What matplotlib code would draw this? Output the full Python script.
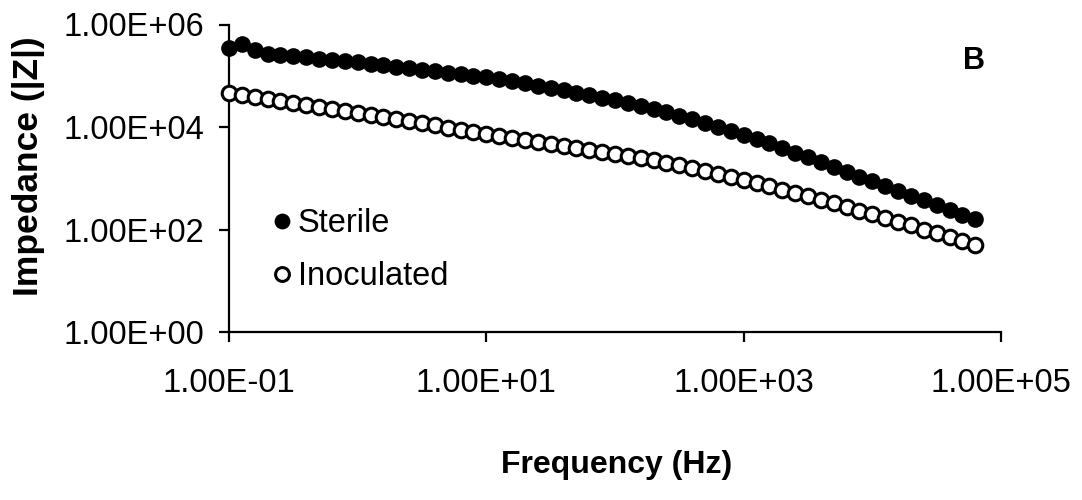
import matplotlib
matplotlib.use("Agg")
import matplotlib.pyplot as plt
import numpy as np
from matplotlib.ticker import FixedLocator, NullLocator, FuncFormatter

plt.rcParams['font.family'] = ['Liberation Sans', 'DejaVu Sans']

freq = [0.1, 0.126, 0.158, 0.2, 0.251, 0.316, 0.398, 0.501, 0.631, 0.794,
        1.0, 1.26, 1.58, 2.0, 2.51, 3.16, 3.98, 5.01, 6.31, 7.94,
        10, 12.6, 15.8, 20, 25.1, 31.6, 39.8, 50.1, 63.1, 79.4,
        100, 126, 158, 200, 251, 316, 398, 501, 631, 794,
        1000, 1260, 1580, 2000, 2510, 3160, 3980, 5010, 6310, 7940,
        10000, 12600, 15800, 20000, 25100, 31600, 39800, 50100, 63100]

sterile_log10_z = [5.54, 5.62, 5.50, 5.42, 5.40, 5.38, 5.36, 5.33, 5.31, 5.28,
                   5.26, 5.23, 5.21, 5.18, 5.15, 5.12, 5.09, 5.06, 5.03, 5.00,
                   4.97, 4.93, 4.89, 4.85, 4.80, 4.76, 4.72, 4.67, 4.62, 4.57,
                   4.52, 4.46, 4.41, 4.35, 4.29, 4.22, 4.15, 4.08, 4.00, 3.92,
                   3.84, 3.76, 3.68, 3.59, 3.50, 3.41, 3.31, 3.22, 3.12, 3.03,
                   2.94, 2.84, 2.75, 2.66, 2.57, 2.48, 2.38, 2.29, 2.20]

inoculated_log10_z = [4.66, 4.63, 4.59, 4.55, 4.51, 4.47, 4.43, 4.39, 4.35, 4.31,
                      4.27, 4.23, 4.19, 4.15, 4.11, 4.07, 4.03, 3.99, 3.95, 3.91,
                      3.87, 3.83, 3.79, 3.75, 3.71, 3.67, 3.63, 3.59, 3.55, 3.51,
                      3.47, 3.43, 3.39, 3.35, 3.30, 3.25, 3.20, 3.15, 3.09, 3.03,
                      2.97, 2.91, 2.85, 2.78, 2.72, 2.65, 2.58, 2.51, 2.44, 2.37,
                      2.30, 2.23, 2.15, 2.08, 2.00, 1.93, 1.85, 1.78, 1.70]

x_ticks = [1e-1, 1e1, 1e3, 1e5]
y_ticks = [1e0, 1e2, 1e4, 1e6]

sterile = [10 ** v for v in sterile_log10_z]
inoculated = [10 ** v for v in inoculated_log10_z]

W, H = 1082, 500
fig = plt.figure(figsize=(W / 100, H / 100), dpi=100)
ax = fig.add_axes([229 / W, 1 - 332 / H, (1001 - 229) / W, (332 - 24.5) / H])

ax.plot(freq, sterile, 'o', color='black', markersize=12, markeredgewidth=0,
        label='Sterile', zorder=3, clip_on=False)
ax.plot(freq, inoculated, 'o', markerfacecolor='white', markeredgecolor='black',
        markersize=10.5, markeredgewidth=2.2, label='Inoculated', zorder=3, clip_on=False)

ax.set_xscale('log')
ax.set_yscale('log')
ax.set_xlim(1e-1, 1e5)
ax.set_ylim(1e0, 1e6)

def sci(v, pos):
    e = int(round(np.log10(v)))
    sign = '+' if e >= 0 else '-'
    return f"1.00E{sign}{abs(e):02d}"

ax.xaxis.set_major_locator(FixedLocator(x_ticks))
ax.yaxis.set_major_locator(FixedLocator(y_ticks))
ax.xaxis.set_minor_locator(NullLocator())
ax.yaxis.set_minor_locator(NullLocator())
ax.xaxis.set_major_formatter(FuncFormatter(sci))
ax.yaxis.set_major_formatter(FuncFormatter(sci))

for s in ['top', 'right']:
    ax.spines[s].set_visible(False)
for s in ['left', 'bottom']:
    ax.spines[s].set_linewidth(1.6)

ax.tick_params(axis='both', which='major', labelsize=23.5, width=1.6, length=7,
               direction='out', colors='black')
ax.tick_params(axis='x', pad=19)
ax.tick_params(axis='y', pad=11)

fig.text(29 / W, 1 - 166 / H, 'Impedance (|Z|)', rotation=90, ha='center', va='center',
         fontsize=25.5, fontweight='bold')
fig.text(617 / W, 1 - 465 / H, 'Frequency (Hz)', ha='center', va='center',
         fontsize=23, fontweight='bold')
fig.text(974 / W, 1 - 61 / H, 'B', ha='center', va='center', fontsize=22, fontweight='bold')

leg = ax.legend(loc='upper left', bbox_to_anchor=((267 - 229) / (1001 - 229), (332 - 208) / (332 - 24.5)),
                frameon=False, fontsize=23.5, markerscale=0.95, handletextpad=0.05,
                handlelength=0.9, labelspacing=0.68, borderpad=0, borderaxespad=0)

fig.savefig('out.png', dpi=100, facecolor='white')
